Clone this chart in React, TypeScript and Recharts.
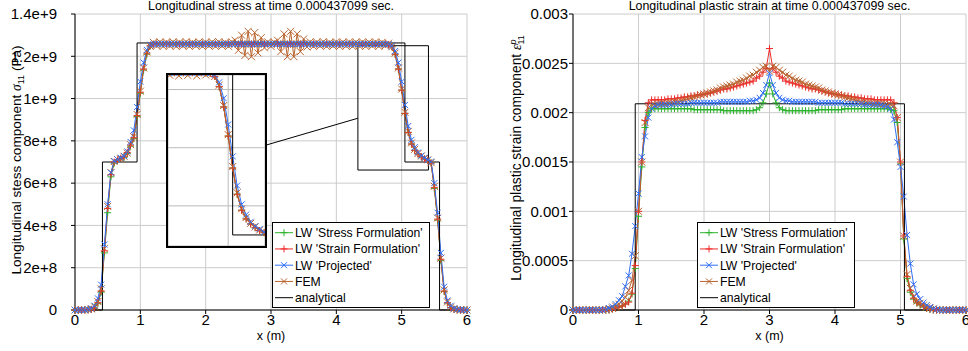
import React from 'react';
import { LineChart, Line, XAxis, YAxis, CartesianGrid, Legend, ReferenceArea, ReferenceLine } from 'recharts';

// shared x positions (m)
const X = [
  0, 0.05, 0.1, 0.15, 0.2, 0.25, 0.3, 0.35, 0.4, 0.45,
  0.5, 0.55, 0.6, 0.65, 0.7, 0.75, 0.8, 0.85, 0.9, 0.95,
  1, 1.05, 1.1, 1.15, 1.2, 1.25, 1.3, 1.35, 1.4, 1.45,
  1.5, 1.55, 1.6, 1.65, 1.7, 1.75, 1.8, 1.85, 1.9, 1.95,
  2, 2.05, 2.1, 2.15, 2.2, 2.25, 2.3, 2.35, 2.4, 2.45,
  2.5, 2.55, 2.6, 2.65, 2.7, 2.75, 2.8, 2.85, 2.9, 2.95,
  3, 3.05, 3.1, 3.15, 3.2, 3.25, 3.3, 3.35, 3.4, 3.45,
  3.5, 3.55, 3.6, 3.65, 3.7, 3.75, 3.8, 3.85, 3.9, 3.95,
  4, 4.05, 4.1, 4.15, 4.2, 4.25, 4.3, 4.35, 4.4, 4.45,
  4.5, 4.55, 4.6, 4.65, 4.7, 4.75, 4.8, 4.85, 4.9, 4.95,
  5, 5.05, 5.1, 5.15, 5.2, 5.25, 5.3, 5.35, 5.4, 5.45,
  5.5, 5.55, 5.6, 5.65, 5.7, 5.75, 5.8, 5.85, 5.9, 5.95,
  6,
];

// stress, in units of 1e8 Pa
const STRESS_GREEN = [
  0, 0, 0, 0, 0.01, 0.03, 0.08, 0.3, 0.85, 2.7,
  4.6, 6.3, 6.95, 7.08, 7.15, 7.22, 7.4, 7.75, 8.1, 9.15,
  10.25, 11.35, 12.1, 12.48, 12.57, 12.58, 12.58, 12.58, 12.58, 12.58,
  12.58, 12.58, 12.58, 12.58, 12.58, 12.58, 12.58, 12.58, 12.58, 12.58,
  12.58, 12.58, 12.58, 12.58, 12.58, 12.58, 12.58, 12.58, 12.58, 12.58,
  12.58, 12.58, 12.58, 12.58, 12.58, 12.58, 12.58, 12.58, 12.58, 12.58,
  12.58, 12.58, 12.58, 12.58, 12.58, 12.58, 12.58, 12.58, 12.58, 12.58,
  12.58, 12.58, 12.58, 12.58, 12.58, 12.58, 12.58, 12.58, 12.58, 12.58,
  12.58, 12.58, 12.58, 12.58, 12.58, 12.58, 12.58, 12.58, 12.58, 12.58,
  12.58, 12.58, 12.58, 12.58, 12.58, 12.57, 12.55, 12.45, 12.1, 11.4,
  10.4, 9.3, 8.4, 7.85, 7.55, 7.38, 7.25, 7.15, 7.08, 6.95,
  5.75, 4.25, 2.35, 0.88, 0.33, 0.11, 0.04, 0.01, 0, 0,
  0,
];
const STRESS_RED = [
  0, 0, 0, 0, 0.01, 0.03, 0.1, 0.35, 0.9, 2.8,
  4.8, 6.4, 7.0, 7.1, 7.18, 7.25, 7.45, 7.8, 8.15, 9.2,
  10.3, 11.4, 12.15, 12.5, 12.57, 12.58, 12.58, 12.58, 12.58, 12.58,
  12.58, 12.58, 12.58, 12.58, 12.58, 12.58, 12.58, 12.58, 12.58, 12.58,
  12.58, 12.58, 12.58, 12.58, 12.58, 12.58, 12.58, 12.58, 12.58, 12.58,
  12.58, 12.58, 12.58, 12.58, 12.58, 12.58, 12.58, 12.58, 12.58, 12.58,
  12.58, 12.58, 12.58, 12.58, 12.58, 12.58, 12.58, 12.58, 12.58, 12.58,
  12.58, 12.58, 12.58, 12.58, 12.58, 12.58, 12.58, 12.58, 12.58, 12.58,
  12.58, 12.58, 12.58, 12.58, 12.58, 12.58, 12.58, 12.58, 12.58, 12.58,
  12.58, 12.58, 12.58, 12.58, 12.58, 12.57, 12.55, 12.45, 12.1, 11.4,
  10.4, 9.3, 8.4, 7.85, 7.55, 7.38, 7.25, 7.15, 7.08, 6.95,
  5.8, 4.3, 2.4, 0.9, 0.35, 0.12, 0.04, 0.01, 0, 0,
  0,
];
const STRESS_BLUE = [
  0, 0, 0, 0, 0.03, 0.08, 0.2, 0.55, 1.2, 3.1,
  5.0, 6.5, 7.05, 7.12, 7.2, 7.28, 7.5, 7.95, 8.5, 9.6,
  10.8, 11.7, 12.3, 12.55, 12.58, 12.58, 12.58, 12.58, 12.58, 12.58,
  12.58, 12.58, 12.58, 12.58, 12.58, 12.58, 12.58, 12.58, 12.58, 12.58,
  12.58, 12.58, 12.58, 12.58, 12.58, 12.58, 12.58, 12.58, 12.58, 12.58,
  12.58, 12.58, 12.58, 12.58, 12.58, 12.58, 12.58, 12.58, 12.58, 12.58,
  12.58, 12.58, 12.58, 12.58, 12.58, 12.58, 12.58, 12.58, 12.58, 12.58,
  12.58, 12.58, 12.58, 12.58, 12.58, 12.58, 12.58, 12.58, 12.58, 12.58,
  12.58, 12.58, 12.58, 12.58, 12.58, 12.58, 12.58, 12.58, 12.58, 12.58,
  12.58, 12.58, 12.58, 12.58, 12.58, 12.58, 12.57, 12.5, 12.25, 11.7,
  10.8, 9.7, 8.7, 8.05, 7.7, 7.45, 7.3, 7.2, 7.1, 7.02,
  6.0, 4.6, 2.7, 1.1, 0.45, 0.2, 0.08, 0.03, 0.01, 0,
  0,
];
const STRESS_FEM = [
  0, 0, 0, 0, 0.02, 0.05, 0.15, 0.4, 1.0, 2.9,
  4.9, 6.5, 7.02, 7.12, 7.15, 7.27, 7.42, 7.82, 8.2, 9.25,
  10.35, 11.45, 12.2, 12.48, 12.66, 12.49, 12.68, 12.47, 12.67, 12.49,
  12.68, 12.47, 12.67, 12.49, 12.69, 12.47, 12.66, 12.49, 12.68, 12.47,
  12.67, 12.49, 12.68, 12.47, 12.69, 12.49, 12.66, 12.47, 12.68, 12.76,
  12.28, 13.0, 12.04, 13.18, 11.98, 13.12, 12.16, 12.88, 12.4, 12.68,
  12.47, 12.67, 12.76, 12.22, 13.06, 11.98, 13.18, 11.98, 13.06, 12.22,
  12.82, 12.44, 12.68, 12.47, 12.67, 12.49, 12.69, 12.47, 12.66, 12.49,
  12.68, 12.47, 12.67, 12.49, 12.68, 12.47, 12.67, 12.49, 12.68, 12.47,
  12.67, 12.49, 12.68, 12.47, 12.66, 12.5, 12.62, 12.45, 12.15, 11.45,
  10.45, 9.35, 8.45, 7.9, 7.6, 7.4, 7.28, 7.17, 7.1, 6.97,
  5.85, 4.35, 2.45, 0.95, 0.38, 0.14, 0.05, 0.02, 0, 0,
  0,
];
const STRESS_EXACT_X = [0, 0.42, 0.42, 0.95, 0.95, 5.05, 5.05, 5.58, 5.58, 6];
const STRESS_EXACT_Y = [0, 0, 7, 7, 12.63, 12.63, 7, 7, 0, 0];

// plastic strain, in units of 1e-3
const STRAIN_GREEN = [
  0, 0, 0, 0, 0, 0, 0, 0, 0, 0,
  0, 0, 0.01, 0.02, 0.03, 0.04, 0.06, 0.09, 0.16, 0.42,
  0.95, 1.45, 1.85, 2.0, 2.04, 2.04, 2.04, 2.04, 2.04, 2.04,
  2.04, 2.04, 2.04, 2.04, 2.04, 2.04, 2.04, 2.03, 2.03, 2.03,
  2.03, 2.03, 2.03, 2.03, 2.03, 2.03, 2.02, 2.02, 2.02, 2.02,
  2.02, 2.02, 2.02, 2.02, 2.02, 2.02, 2.03, 2.05, 2.1, 2.19,
  2.3, 2.19, 2.1, 2.05, 2.03, 2.02, 2.02, 2.02, 2.02, 2.02,
  2.02, 2.02, 2.02, 2.02, 2.02, 2.03, 2.03, 2.03, 2.03, 2.03,
  2.03, 2.03, 2.03, 2.04, 2.04, 2.04, 2.04, 2.04, 2.04, 2.04,
  2.04, 2.04, 2.04, 2.04, 2.04, 2.04, 2.04, 2.03, 2.02, 1.9,
  1.48, 0.72, 0.32, 0.18, 0.11, 0.07, 0.05, 0.03, 0.015, 0.005,
  0, 0, 0, 0, 0, 0, 0, 0, 0, 0,
  0,
];
const STRAIN_RED = [
  0, 0, 0, 0, 0, 0, 0, 0, 0, 0,
  0, 0, 0.01, 0.02, 0.03, 0.04, 0.06, 0.08, 0.17, 0.45,
  1.0, 1.5, 1.92, 2.1, 2.13, 2.13, 2.13, 2.13, 2.13, 2.14,
  2.14, 2.14, 2.15, 2.15, 2.16, 2.16, 2.17, 2.17, 2.18, 2.18,
  2.19, 2.19, 2.2, 2.21, 2.22, 2.23, 2.24, 2.24, 2.25, 2.26,
  2.27, 2.28, 2.29, 2.3, 2.31, 2.32, 2.35, 2.37, 2.41, 2.45,
  2.65, 2.45, 2.41, 2.37, 2.35, 2.32, 2.31, 2.3, 2.29, 2.28,
  2.27, 2.26, 2.25, 2.24, 2.24, 2.23, 2.22, 2.21, 2.2, 2.19,
  2.19, 2.18, 2.18, 2.17, 2.17, 2.16, 2.16, 2.15, 2.15, 2.14,
  2.14, 2.14, 2.13, 2.13, 2.13, 2.13, 2.13, 2.13, 2.1, 1.95,
  1.5, 0.75, 0.34, 0.2, 0.12, 0.08, 0.06, 0.04, 0.02, 0.01,
  0, 0, 0, 0, 0, 0, 0, 0, 0, 0,
  0,
];
const STRAIN_BLUE = [
  0, 0, 0, 0, 0, 0, 0, 0, 0, 0,
  0.005, 0.02, 0.035, 0.06, 0.1, 0.14, 0.24, 0.35, 0.57, 0.85,
  1.18, 1.55, 1.76, 1.95, 2.04, 2.07, 2.08, 2.08, 2.08, 2.08,
  2.08, 2.09, 2.09, 2.09, 2.09, 2.09, 2.1, 2.1, 2.1, 2.1,
  2.1, 2.1, 2.1, 2.1, 2.1, 2.11, 2.11, 2.11, 2.11, 2.11,
  2.11, 2.11, 2.11, 2.11, 2.12, 2.12, 2.13, 2.15, 2.2, 2.28,
  2.4, 2.28, 2.2, 2.15, 2.13, 2.12, 2.12, 2.11, 2.11, 2.11,
  2.11, 2.11, 2.11, 2.11, 2.11, 2.1, 2.1, 2.1, 2.1, 2.1,
  2.1, 2.1, 2.1, 2.09, 2.09, 2.09, 2.09, 2.09, 2.09, 2.08,
  2.08, 2.08, 2.08, 2.08, 2.08, 2.07, 2.06, 2.04, 1.93, 1.7,
  1.45, 1.15, 0.76, 0.47, 0.26, 0.16, 0.11, 0.075, 0.05, 0.03,
  0.015, 0.005, 0, 0, 0, 0, 0, 0, 0, 0,
  0,
];
const STRAIN_FEM = [
  0, 0, 0, 0, 0, 0, 0, 0, 0, 0,
  0.005, 0.01, 0.02, 0.04, 0.06, 0.09, 0.13, 0.2, 0.3, 0.55,
  1.0, 1.5, 1.9, 2.05, 2.08, 2.08, 2.09, 2.09, 2.09, 2.1,
  2.1, 2.11, 2.11, 2.12, 2.13, 2.14, 2.15, 2.16, 2.17, 2.18,
  2.19, 2.2, 2.21, 2.22, 2.23, 2.25, 2.26, 2.27, 2.28, 2.29,
  2.31, 2.32, 2.33, 2.35, 2.37, 2.38, 2.41, 2.43, 2.46, 2.47,
  2.42, 2.47, 2.46, 2.43, 2.41, 2.38, 2.37, 2.35, 2.33, 2.32,
  2.31, 2.29, 2.28, 2.27, 2.26, 2.25, 2.23, 2.22, 2.21, 2.2,
  2.19, 2.18, 2.17, 2.16, 2.15, 2.14, 2.13, 2.12, 2.11, 2.11,
  2.1, 2.1, 2.09, 2.09, 2.09, 2.09, 2.08, 2.08, 2.07, 1.95,
  1.5, 0.75, 0.36, 0.22, 0.14, 0.09, 0.07, 0.05, 0.03, 0.02,
  0.01, 0.005, 0, 0, 0, 0, 0, 0, 0, 0,
  0,
];
const STRAIN_EXACT_X = [0, 0.95, 0.95, 5.06, 5.06, 6];
const STRAIN_EXACT_Y = [0, 0, 2.09, 2.09, 0, 0];

const X_TICKS = [0, 1, 2, 3, 4, 5, 6];
const STRESS_TICKS = [0, 2, 4, 6, 8, 10, 12, 14];
const STRESS_TICK_LABELS = ['0', '2e+8', '4e+8', '6e+8', '8e+8', '1e+9', '1.2e+9', '1.4e+9'];
const STRAIN_TICKS = [0, 0.5, 1, 1.5, 2, 2.5, 3];
const STRAIN_TICK_LABELS = ['0', '0.0005', '0.001', '0.0015', '0.002', '0.0025', '0.003'];

// zoom window shown in the inset, and the leader line to it
const ZOOM_X = [4.33, 5.41];
const ZOOM_Y = [6.62, 12.5];
const INSET_GRID_X = [5];
const INSET_GRID_Y = [8, 10, 12];
const LEADER = [{ x: 2.925, y: 7.8 }, { x: 4.33, y: 9.07 }];

const GREEN = '#2db32d';
const RED = '#f02a2a';
const BLUE = '#2f6ef5';
const BROWN = '#b8642f';
const FONT = '"Liberation Sans", Arial, Helvetica, sans-serif';

const LEGEND_ITEMS = [
  { name: "LW 'Stress Formulation'", color: GREEN, mark: 'plus' },
  { name: "LW 'Strain Formulation'", color: RED, mark: 'plus' },
  { name: "LW 'Projected'", color: BLUE, mark: 'cross' },
  { name: 'FEM', color: BROWN, mark: 'cross' },
  { name: 'analytical', color: '#000', mark: '' },
];

function markPath(mark: string, cx: number, cy: number, s = 3) {
  if (mark === 'plus') return `M${cx - 3.5},${cy}h7M${cx},${cy - 3.5}v7`;
  return `M${cx - s},${cy - s}l${2 * s},${2 * s}M${cx - s},${cy + s}l${2 * s},${-2 * s}`;
}

const markDot = (mark: string, color: string, s = 3) => (p: any) => {
  if (p.cx == null || p.cy == null) return <g key={p.index} />;
  return <path key={p.index} d={markPath(mark, p.cx, p.cy, s)} stroke={color} strokeWidth={1} fill="none" />;
};

const rows = (ys: number[]) => X.map((x, i) => ({ x, y: ys[i] }));
const exact = (xs: number[], ys: number[]) => xs.map((x, i) => ({ x, y: ys[i] }));

function seriesLines(g: number[], r: number[], b: number[], f: number[], ex: any[]) {
  return [
    <Line key="g" data={rows(g)} dataKey="y" stroke={GREEN} strokeWidth={1} dot={markDot('plus', GREEN)} isAnimationActive={false} />,
    <Line key="r" data={rows(r)} dataKey="y" stroke={RED} strokeWidth={1} dot={markDot('plus', RED)} isAnimationActive={false} />,
    <Line key="f" data={rows(f)} dataKey="y" stroke={BROWN} strokeWidth={1} dot={markDot('cross', BROWN, 3.5)} isAnimationActive={false} />,
    <Line key="b" data={rows(b)} dataKey="y" stroke={BLUE} strokeWidth={1} dot={markDot('cross', BLUE)} isAnimationActive={false} />,
    <Line key="a" data={ex} dataKey="y" stroke="#000" strokeWidth={1} dot={false} isAnimationActive={false} />,
  ];
}

function LegendBox() {
  return (
    <svg width={158} height={86} style={{ display: 'block', fontFamily: FONT }}>
      <rect x={0.5} y={0.5} width={157} height={85} fill="#fff" stroke="#000" />
      {LEGEND_ITEMS.map((it, i) => {
        const cy = 10.7 + 16.25 * i;
        return (
          <g key={it.name}>
            <line x1={3} x2={21} y1={cy} y2={cy} stroke={it.color} />
            {it.mark && <path d={markPath(it.mark, 12, cy)} stroke={it.color} fill="none" />}
            <text x={23} y={cy + 4.3} fontSize={12.2} fill="#000">{it.name}</text>
          </g>
        );
      })}
    </svg>
  );
}

const xLabel = (p: any) => {
  const vb = p.viewBox;
  return <text x={vb.x + vb.width / 2} y={340} textAnchor="middle" fontSize={12.5} fill="#000">x (m)</text>;
};

const stressLabel = (p: any) => {
  const vb = p.viewBox;
  const x = vb.x + 21;
  const y = vb.y + vb.height / 2 - 2;
  return (
    <text x={x} y={y} transform={`rotate(-90 ${x} ${y})`} textAnchor="middle" fontSize={13.6} fill="#000">
      Longitudinal stess component{' '}
      <tspan fontStyle="italic" fontFamily="Liberation Serif, serif">σ</tspan>
      <tspan fontSize={9} dy={3}>11</tspan>
      <tspan dy={-3}> (Pa)</tspan>
    </text>
  );
};

const strainLabel = (p: any) => {
  const vb = p.viewBox;
  const x = vb.x + 37;
  const y = vb.y + vb.height / 2 - 4;
  return (
    <text x={x} y={y} transform={`rotate(-90 ${x} ${y})`} textAnchor="middle" fontSize={13.8} fill="#000">
      Longitudinal plastic strain component{' '}
      <tspan fontStyle="italic" fontFamily="Liberation Serif, serif">ε</tspan>
      <tspan fontSize={9} dy={-5} fontStyle="italic">p</tspan>
      <tspan fontSize={9} dx={-5} dy={8}>11</tspan>
    </text>
  );
};

const tickStyle = { fontSize: 15, fill: '#000' };

export default function App() {
  const stressExact = exact(STRESS_EXACT_X, STRESS_EXACT_Y);
  const strainExact = exact(STRAIN_EXACT_X, STRAIN_EXACT_Y);
  return (
    <div style={{ position: 'absolute', left: 0, top: 0, width: 968, height: 351, background: '#fff', fontFamily: FONT, overflow: 'hidden' }}>
      <div style={{ position: 'absolute', left: 0, top: -1, width: 542, textAlign: 'center', fontSize: 12.4, lineHeight: '14px' }}>
        Longitudinal stress at time 0.000437099 sec.
      </div>
      <div style={{ position: 'absolute', left: 484, top: -1, width: 571, textAlign: 'center', fontSize: 12.4, lineHeight: '14px' }}>
        Longitudinal plastic strain at time 0.000437099 sec.
      </div>

      <div style={{ position: 'absolute', left: 0, top: 0 }}>
        <LineChart width={484} height={351} margin={{ top: 14, right: 17, bottom: 0, left: 0 }}>
          <CartesianGrid stroke="#cccccc" />
          <XAxis dataKey="x" type="number" domain={[0, 6]} ticks={X_TICKS} interval={0} height={41}
            tick={tickStyle} tickSize={4} tickMargin={0} stroke="#000" label={xLabel} />
          <YAxis type="number" domain={[0, 14]} ticks={STRESS_TICKS} interval={0} width={75}
            tickFormatter={(v: number) => STRESS_TICK_LABELS[STRESS_TICKS.indexOf(v)]}
            tick={tickStyle} tickSize={4} tickMargin={14} stroke="#000" label={stressLabel} />
          <ReferenceArea x1={ZOOM_X[0]} x2={ZOOM_X[1]} y1={ZOOM_Y[0]} y2={ZOOM_Y[1]} fill="none" fillOpacity={0} stroke="#000" strokeWidth={1} />
          <ReferenceLine segment={LEADER} stroke="#000" strokeWidth={1} />
          {seriesLines(STRESS_GREEN, STRESS_RED, STRESS_BLUE, STRESS_FEM, stressExact)}
          <Legend content={() => <LegendBox />} layout="vertical" align="center" verticalAlign="middle"
            wrapperStyle={{ left: 272, top: 222, width: 158, height: 86 }} />
        </LineChart>
      </div>

      <div style={{ position: 'absolute', left: 166, top: 73, width: 101, height: 175, boxSizing: 'border-box', border: '2px solid #000', background: '#fff' }}>
        <LineChart width={97} height={171} margin={{ top: 0, right: 0, bottom: 0, left: 0 }}>
          <CartesianGrid stroke="#bbbbbb" />
          <XAxis dataKey="x" type="number" domain={ZOOM_X} ticks={INSET_GRID_X} allowDataOverflow hide />
          <YAxis type="number" domain={ZOOM_Y} ticks={INSET_GRID_Y} allowDataOverflow hide />
          {seriesLines(STRESS_GREEN, STRESS_RED, STRESS_BLUE, STRESS_FEM, stressExact)}
        </LineChart>
      </div>

      <div style={{ position: 'absolute', left: 484, top: 0 }}>
        <LineChart width={484} height={351} margin={{ top: 14, right: 2, bottom: 0, left: 0 }}>
          <CartesianGrid stroke="#cccccc" />
          <XAxis dataKey="x" type="number" domain={[0, 6]} ticks={X_TICKS} interval={0} height={41}
            tick={tickStyle} tickSize={4} tickMargin={0} stroke="#000" label={xLabel} />
          <YAxis type="number" domain={[0, 3]} ticks={STRAIN_TICKS} interval={0} width={89}
            tickFormatter={(v: number) => STRAIN_TICK_LABELS[STRAIN_TICKS.indexOf(v)]}
            tick={tickStyle} tickSize={4} tickMargin={1} stroke="#000" label={strainLabel} />
          {seriesLines(STRAIN_GREEN, STRAIN_RED, STRAIN_BLUE, STRAIN_FEM, strainExact)}
          <Legend content={() => <LegendBox />} layout="vertical" align="center" verticalAlign="middle"
            wrapperStyle={{ left: 213, top: 222, width: 159, height: 86 }} />
        </LineChart>
      </div>
    </div>
  );
}
